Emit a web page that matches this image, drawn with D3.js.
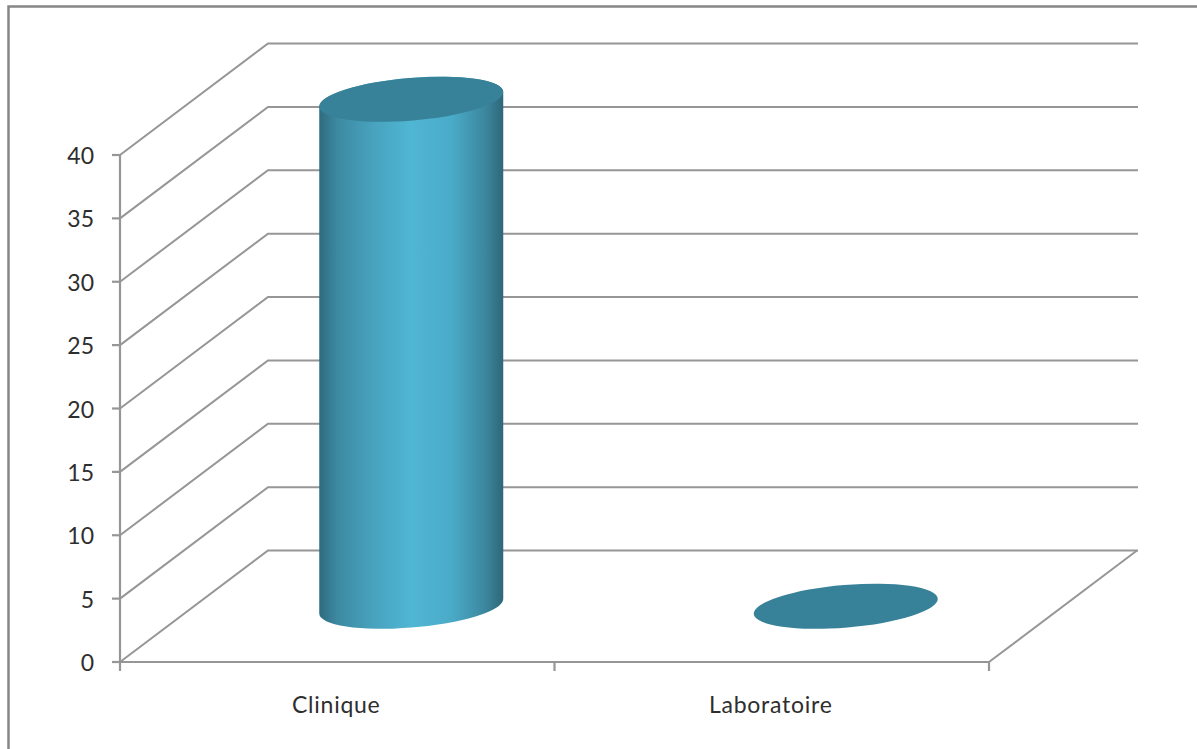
<!DOCTYPE html>
<html>
<head>
<meta charset="utf-8">
<script src="https://cdn.jsdelivr.net/npm/d3@7"></script>
<style>
    html, body { margin: 0; padding: 0; background: #fff; overflow: hidden; }
    text { font-family: "Lato", sans-serif; font-size: 23px; fill: #2e2e2e; }
    .xlabel { letter-spacing: 0.75px; }
</style>
</head>
<body>
<div id="displaybox"></div>
<script>
const categories = ["Clinique", "Laboratoire"];
const values = [40, 0];
const yTicks = [0, 5, 10, 15, 20, 25, 30, 35, 40];

const width = 1197, height = 749;
const lineColor = "#969696";

// depth of the 3D box, as an offset from the front plane to the back wall
const depth = {x: 148, y: -111.5};

const svg = d3.select("#displaybox").append("svg")
    .attr("width", width)
    .attr("height", height);

const x = d3.scaleBand().domain(categories).range([120, 989]);
const y = d3.scaleLinear().domain([0, 40]).range([662, 155]);

// chart frame
svg.append("path")
    .attr("d", "M8.5,749V6.5H1197")
    .attr("fill", "none")
    .attr("stroke", "#868686")
    .attr("stroke-width", 2.5);

// back wall gridlines and the matching slanted lines on the side wall
const grid = svg.append("g")
    .attr("fill", "none")
    .attr("stroke", lineColor)
    .attr("stroke-width", 2);

grid.selectAll("path").data(yTicks)
    .enter()
    .append("path")
        .attr("d", d => `M${x.range()[0]},${y(d)}L${x.range()[0] + depth.x},${y(d) + depth.y}H${x.range()[1] + depth.x + 1}`);

// right edge of the floor
grid.append("line")
    .attr("x1", x.range()[1])
    .attr("y1", y(0))
    .attr("x2", x.range()[1] + depth.x)
    .attr("y2", y(0) + depth.y);

// front axes
const axis = svg.append("g")
    .attr("stroke", lineColor)
    .attr("stroke-width", 2.2);

axis.append("line")
    .attr("x1", x.range()[0]).attr("x2", x.range()[0])
    .attr("y1", y(40)).attr("y2", y(0));
axis.append("line")
    .attr("x1", x.range()[0]).attr("x2", x.range()[1])
    .attr("y1", y(0)).attr("y2", y(0));

axis.selectAll(".ytick").data(yTicks)
    .enter()
    .append("line")
        .attr("class", "ytick")
        .attr("x1", x.range()[0] - 8).attr("x2", x.range()[0])
        .attr("y1", d => y(d)).attr("y2", d => y(d));

axis.selectAll(".xtick").data([x.range()[0], x.range()[0] + x.bandwidth(), x.range()[1]])
    .enter()
    .append("line")
        .attr("class", "xtick")
        .attr("x1", d => d).attr("x2", d => d)
        .attr("y1", y(0)).attr("y2", y(0) + 9);

svg.selectAll(".ylabel").data(yTicks)
    .enter()
    .append("text")
        .attr("class", "ylabel")
        .attr("x", 94)
        .attr("y", d => y(d) + 9)
        .attr("text-anchor", "end")
        .text(d => d);

svg.selectAll(".xlabel").data(categories)
    .enter()
    .append("text")
        .attr("class", "xlabel")
        .attr("x", d => x(d) + x.bandwidth() / 2 - 1)
        .attr("y", 713)
        .attr("text-anchor", "middle")
        .text(d => d);

// cylinders sit halfway into the box depth
const rx = 92.3, ry = 21.3, tilt = -4.8;
const tiltRad = tilt * Math.PI / 180;
const halfX = Math.sqrt((rx * Math.cos(tiltRad)) ** 2 + (ry * Math.sin(tiltRad)) ** 2);
// y offset of the ellipse's rightmost point, the left one mirrors it
const edgeY = (rx * rx - ry * ry) * Math.sin(tiltRad) * Math.cos(tiltRad) / halfX;

const defs = svg.append("defs");
const shade = defs.append("linearGradient").attr("id", "cylinderShade");
[[0, "#2f6b7e"], [0.1, "#3d8aa2"], [0.3, "#48a3bf"], [0.5, "#4fb6d4"], [0.72, "#4aabc8"], [0.9, "#3c879f"], [1, "#2e6779"]]
    .forEach(d => shade.append("stop").attr("offset", d[0]).attr("stop-color", d[1]));

const bars = svg.selectAll(".bar").data(categories.map((c, i) => ({name: c, value: values[i]})))
    .enter()
    .append("g")
        .attr("class", "bar")
        .attr("transform", d => `translate(${x(d.name) + x.bandwidth() / 2 + depth.x / 2},${y(0) + depth.y / 2})`);

// side of the cylinder, closed by the lower half of the base ellipse
bars.filter(d => d.value > 0)
    .append("path")
        .attr("d", d => {
            const h = y(0) - y(d.value);
            return `M${-halfX},${-edgeY - h}V${-edgeY}`
                + `A${rx},${ry} ${tilt} 0 0 ${halfX},${edgeY}`
                + `V${edgeY - h}`
                + `A${rx},${ry} ${tilt} 0 0 ${-halfX},${-edgeY - h}Z`;
        })
        .attr("fill", "url(#cylinderShade)");

// top face
bars.append("ellipse")
    .attr("rx", rx)
    .attr("ry", ry)
    .attr("transform", d => `translate(0,${y(d.value) - y(0)}) rotate(${tilt})`)
    .attr("fill", "#388299");
</script>
</body>
</html>
